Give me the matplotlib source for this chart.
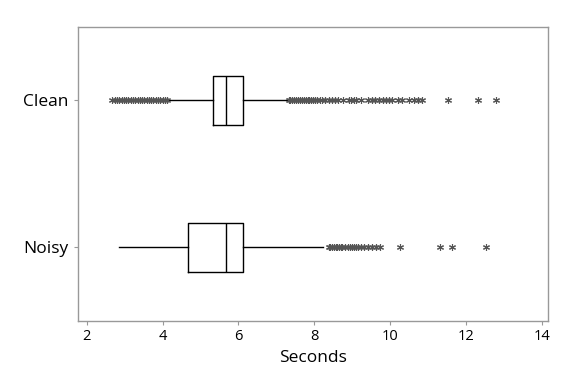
import matplotlib
matplotlib.use("Agg")
import matplotlib.pyplot as plt

# groups (bottom to top)
groups = ["Noisy", "Clean"]

# five-number summaries (seconds)
q1 = [4.68, 5.32]
med = [5.66, 5.68]
q3 = [6.13, 6.12]
whislo = [2.86, 4.15]
whishi = [8.24, 7.28]

# outliers
noisy_out = [8.38, 8.42, 8.47, 8.52, 8.56, 8.60, 8.65, 8.70, 8.74, 8.80,
             8.88, 8.93, 8.98, 9.04, 9.10, 9.16, 9.22, 9.30, 9.40, 9.52,
             9.62, 9.74, 10.26, 11.31, 11.62, 12.52]
clean_out = [2.68, 2.74, 2.80, 2.86, 2.92, 2.98, 3.04, 3.10, 3.16, 3.22,
             3.28, 3.34, 3.40, 3.46, 3.52, 3.58, 3.64, 3.70, 3.76, 3.82,
             3.88, 3.94, 4.00, 4.06, 4.11,
             7.32, 7.37, 7.42, 7.47, 7.52, 7.57, 7.62, 7.67, 7.72, 7.77,
             7.82, 7.87, 7.92, 7.97, 8.02, 8.08, 8.14, 8.20, 8.27, 8.38,
             8.47, 8.55, 8.62, 8.76, 8.90, 8.97, 9.04, 9.10, 9.24,
             9.42, 9.52, 9.60, 9.70, 9.80, 9.88, 9.96, 10.04,
             10.20, 10.32, 10.50, 10.62, 10.72, 10.84,
             11.52, 12.31, 12.78]
fliers = [noisy_out, clean_out]

stats = []
for i, name in enumerate(groups):
    stats.append(dict(label=name, q1=q1[i], med=med[i], q3=q3[i],
                      whislo=whislo[i], whishi=whishi[i], fliers=fliers[i]))

plt.rcParams['font.family'] = ['Open Sans', 'DejaVu Sans']

fig, ax = plt.subplots(figsize=(5.76, 3.84), dpi=100)
fig.subplots_adjust(left=0.136, right=0.951, top=0.93, bottom=0.164)

ax.bxp(stats, positions=[1, 2], vert=False, widths=0.336,
       showcaps=False,
       boxprops=dict(color='black', linewidth=1.0),
       whiskerprops=dict(color='black', linewidth=1.0),
       medianprops=dict(color='black', linewidth=1.0),
       flierprops=dict(marker=(6, 2, 0), markersize=5, markeredgecolor='#555555',
                       markerfacecolor='#555555', markeredgewidth=0.8, linestyle='none'))

ax.set_xlim(1.78, 14.15)
ax.set_ylim(0.5, 2.5)
ax.set_xticks([2, 4, 6, 8, 10, 12, 14])
ax.set_yticks([1, 2])
ax.set_yticklabels(groups, fontsize=12.5)
ax.tick_params(axis='x', labelsize=10.5, length=3, color='#999999', pad=3)
ax.tick_params(axis='y', length=3, color='#999999', pad=4)
ax.set_xlabel("Seconds", fontsize=12.5, labelpad=4)
for s in ax.spines.values():
    s.set_color('#999999')
    s.set_linewidth(1.0)

fig.savefig("out.png", dpi=100)
